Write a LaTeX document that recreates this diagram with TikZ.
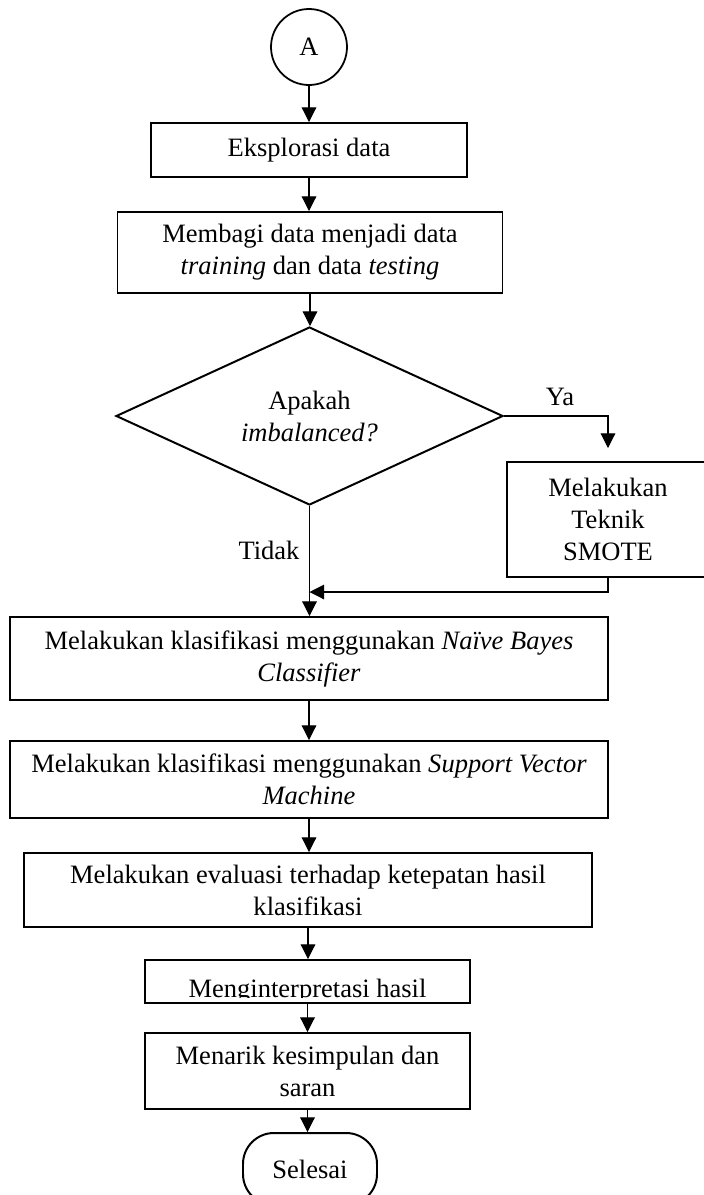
\documentclass[tikz,border=0pt]{standalone}
\usepackage{fontspec}
\setmainfont{Liberation Serif}
\usetikzlibrary{shapes.geometric,arrows.meta}
\newdimen\pxu \pxu=0.4525pt
\begin{document}
\begin{tikzpicture}[x=0.4525pt,y=-0.4525pt,
  every node/.style={font=\fontsize{12}{14.5}\selectfont},
  box/.style={draw, line width=0.9pt, rectangle, inner sep=0pt, align=center},
  arr/.style={line width=0.5pt, -{Triangle[length=6.6pt,width=6.6pt]}},
  lbl/.style={inner sep=0pt}]
\useasboundingbox (0,0) rectangle (704,1195);
\clip (0,0) rectangle (704,1195);
\fill[white] (0,0) rectangle (704,1195);
% nodes
\node[draw, circle, line width=0.8pt, minimum size={76*\pxu}, inner sep=0pt] (A) at (309,47) {A};
\node[box, minimum width={316*\pxu}, minimum height={54*\pxu}] (eks) at (309,150) {Eksplorasi data};
\node[box, minimum width={385*\pxu}, minimum height={81*\pxu}] (bagi) at (310,252.5) {Membagi data menjadi data\\\textit{training} dan data \textit{testing}};
\node[draw, diamond, shape aspect=2.17, line width=0.9pt, inner sep=0pt, minimum width={387*\pxu}, minimum height={178*\pxu}, align=center] (dia) at (309.5,416) {Apakah\\\textit{imbalanced?}};
\node[box, minimum width={202*\pxu}, minimum height={115*\pxu}] (smote) at (608,519.5) {Melakukan\\Teknik\\SMOTE};
\node[box, minimum width={598*\pxu}, minimum height={83*\pxu}] (nb) at (309,658.5) {Melakukan klasifikasi menggunakan \textit{Naïve Bayes}\\\textit{Classifier}};
\node[box, minimum width={598*\pxu}, minimum height={77*\pxu}] (svm) at (309,779.5) {Melakukan klasifikasi menggunakan \textit{Support Vector}\\\textit{Machine}};
\node[box, minimum width={568*\pxu}, minimum height={74*\pxu}] (eval) at (308,890) {Melakukan evaluasi terhadap ketepatan hasil\\klasifikasi};
\node[box, minimum width={325*\pxu}, minimum height={43*\pxu}] (interp) at (307.5,981.5) {};
\begin{scope}
\clip (145,960) rectangle (470,997);
\node[lbl, anchor=base] (interpText) at (307.5,997) {Menginterpretasi hasil};
\end{scope}
\node[box, minimum width={325*\pxu}, minimum height={76*\pxu}] (menarik) at (307.5,1071) {Menarik kesimpulan dan\\saran};
\node[draw, rounded corners=14pt, line width=0.9pt, minimum width={134*\pxu}, minimum height={72*\pxu}, inner sep=0pt] (end) at (310,1169) {Selesai};
\node[lbl] (ya) at (560,397) {Ya};
\node[lbl] (tidak) at (269,550) {Tidak};
\coordinate (yaend) at (608,448);
\coordinate (ret) at (309.5,592);
% connectors
\draw[arr] (A.south) -- (A.south |- eks.north);
\draw[arr] (eks.south) -- (eks.south |- bagi.north);
\draw[arr] (bagi.south) -- (bagi.south |- dia.north);
\draw[arr] (dia.south) -- (dia.south |- nb.north);
\draw[arr] (dia.east) -| (yaend);
\draw[arr] (smote.south) |- (ret);
\draw[arr] (nb.south) -- (nb.south |- svm.north);
\draw[arr] (svm.south) -- (svm.south |- eval.north);
\draw[arr] (eval.south) -- (eval.south |- interp.north);
\draw[arr] (interp.south) -- (interp.south |- menarik.north);
\draw[arr] (menarik.south) -- (menarik.south |- end.north);
\end{tikzpicture}
\end{document}
